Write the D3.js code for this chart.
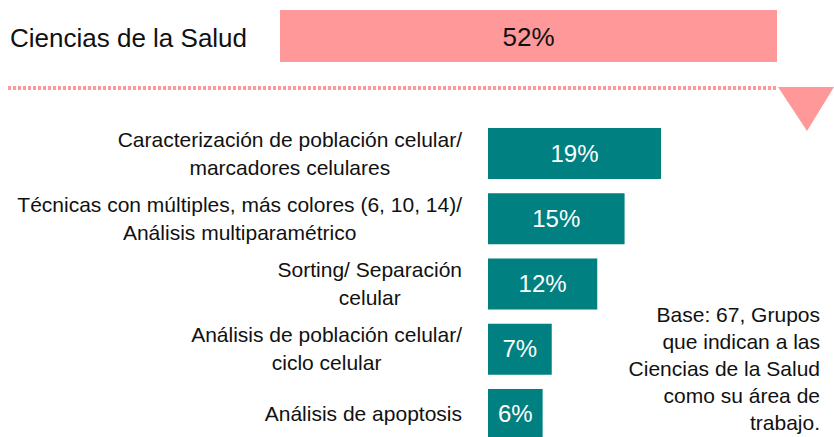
<!DOCTYPE html>
<html>
<head>
<meta charset="utf-8">
<script src="https://d3js.org/d3.v7.min.js"></script>
<style>
  body { margin: 0; background: white; }
  text { font-family: "Liberation Sans", Arial, sans-serif; }
</style>
</head>
<body>
<svg id="chart" width="834" height="437"></svg>
<script>
  var topLabel = 'Ciencias de la Salud'
  var topValue = 52

  var categories = [
    ['Caracterización de población celular/', 'marcadores celulares'],
    ['Técnicas con múltiples, más colores (6, 10, 14)/', 'Análisis multiparamétrico'],
    ['Sorting/ Separación', 'celular'],
    ['Análisis de población celular/', 'ciclo celular'],
    ['Análisis de apoptosis']
  ]
  var values = [19, 15, 12, 7, 6]

  var baseNote = ['Base: 67, Grupos', 'que indican a las', 'Ciencias de la Salud', 'como su área de', 'trabajo.']

  var svg = d3.select('#chart')

  // top bar
  var xTop = d3.scaleLinear().domain([0, 52]).range([0, 497])
  svg.append('rect')
    .attr('x', 280).attr('y', 10)
    .attr('width', xTop(topValue)).attr('height', 52)
    .style('fill', '#ff9999')
  svg.append('text')
    .attr('x', 280 + xTop(topValue) / 2).attr('y', 46)
    .attr('text-anchor', 'middle')
    .style('font-size', '26px').style('fill', '#111')
    .text(topValue + '%')
  svg.append('text')
    .attr('x', 10).attr('y', 47)
    .style('font-size', '26px').style('fill', '#111')
    .text(topLabel)

  // dotted line + arrow
  svg.append('line')
    .attr('x1', 8).attr('x2', 778).attr('y1', 88).attr('y2', 88)
    .style('stroke', '#ff9999').style('stroke-width', 4)
    .style('stroke-dasharray', '3,2')
  svg.append('path')
    .attr('d', 'M778,87 L834,87 L807,131 Z')
    .style('fill', '#ff9999')

  // bars
  var x = d3.scaleLinear().domain([0, 19]).range([0, 173])
  var y = d3.scaleBand().domain(d3.range(values.length)).range([128, 440]).paddingInner(0.218).paddingOuter(0)

  var g = svg.selectAll('.bar').data(values).enter().append('g').attr('class', 'bar')
  g.append('rect')
    .attr('x', 488)
    .attr('y', (d, i) => y(i))
    .attr('width', d => x(d))
    .attr('height', y.bandwidth())
    .style('fill', '#008080')
  g.append('text')
    .attr('x', d => 488 + x(d) / 2)
    .attr('y', (d, i) => y(i) + y.bandwidth() / 2 + 8)
    .attr('text-anchor', 'middle')
    .style('font-size', '24px').style('fill', 'white')
    .text(d => d + '%')

  // category labels: lines centered on each other, block right aligned
  categories.forEach(function(lines, i) {
    var lh = 28
    var cy = y(i) + y.bandwidth() / 2
    var t = svg.append('text').style('font-size', '21px').style('fill', '#111')
    var spans = lines.map(function(l, j) {
      return t.append('tspan').text(l)
        .attr('y', cy - (lines.length - 1) * lh / 2 + j * lh + 7)
    })
    var maxW = d3.max(spans, s => s.node().getComputedTextLength())
    var cx = 462 - maxW / 2
    spans.forEach(s => s.attr('x', cx).attr('text-anchor', 'middle'))
  })

  // base note
  svg.append('text')
    .style('font-size', '21px').style('fill', '#111')
    .attr('text-anchor', 'end')
    .selectAll('tspan').data(baseNote).enter().append('tspan')
    .attr('x', 820)
    .attr('y', (d, i) => 322 + i * 27)
    .text(d => d)
</script>
</body>
</html>
